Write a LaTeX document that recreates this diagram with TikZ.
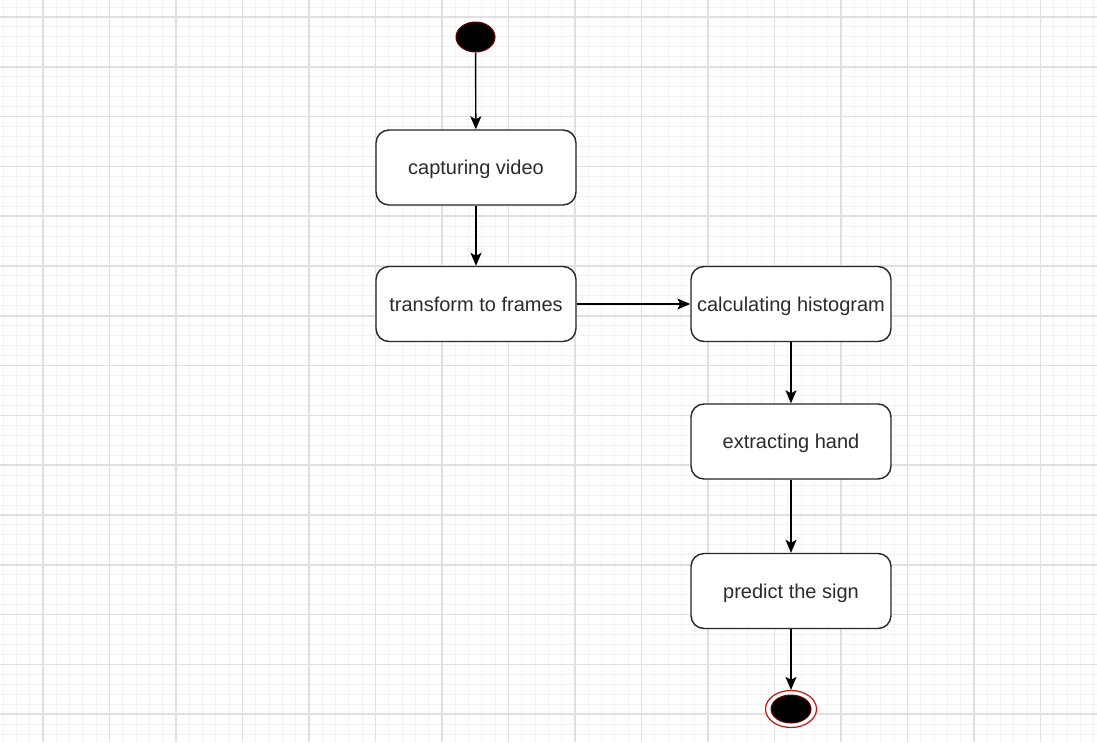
\documentclass[tikz,border=0pt]{standalone}
\usepackage{fontspec}
\setmainfont{Liberation Sans}
\usetikzlibrary{arrows.meta,shapes.geometric}
\definecolor{gridminor}{HTML}{F2F2F2}
\definecolor{gridmajor}{HTML}{E0E0E0}
\definecolor{txt}{HTML}{2B2B2B}
\definecolor{darkred}{HTML}{6B0000}
\definecolor{endred}{HTML}{CC1111}
\begin{document}
\begin{tikzpicture}[x=1pt,y=-1pt,
  stepbox/.style={draw=black!85, line width=1.4pt, rounded corners=13pt,
    minimum width=200pt, minimum height=75pt, fill=white, inner sep=0pt,
    text height=14.5pt, text depth=0pt,
    font=\fontsize{20}{24}\selectfont, text=txt},
  flow/.style={draw=black, line width=1.4pt, -{Stealth[length=13pt,width=11pt,inset=3pt]}},
  minorline/.style={draw=gridminor, line width=1pt},
  majorline/.style={draw=gridmajor, line width=1.5pt},
  startdot/.style={ellipse, fill=black, draw=darkred, line width=1pt,
    minimum width=39pt, minimum height=30pt, inner sep=0pt},
  endring/.style={ellipse, fill=white, draw=endred, line width=1.2pt,
    minimum width=51pt, minimum height=37pt, inner sep=0pt},
  enddot/.style={ellipse, fill=black, draw=darkred, line width=1pt,
    minimum width=40pt, minimum height=28pt, inner sep=0pt}]
\useasboundingbox (0,0) rectangle (1097,742);
\fill[white] (0,0) rectangle (1097,742);
% grid
\foreach \i in {0,...,82} { \draw[minorline] ({3.1+13.3*\i},0) -- ({3.1+13.3*\i},742); }
\foreach \i in {0,...,73} { \draw[minorline] (0,{7+9.96*\i}) -- (1097,{7+9.96*\i}); }
\foreach \i in {0,...,15} { \draw[majorline] ({43+66.5*\i},0) -- ({43+66.5*\i},742); }
\foreach \i in {0,...,14} { \draw[majorline] (0,{17+49.8*\i}) -- (1097,{17+49.8*\i}); }
% nodes
\node[startdot] (start) at (475.5,37) {};
\node[stepbox] (cap) at (476,167.5) {capturing video};
\node[stepbox] (trans) at (476,304) {transform to frames};
\node[stepbox] (hist) at (791,304) {calculating histogram};
\node[stepbox] (hand) at (791,441.5) {extracting hand};
\node[stepbox] (pred) at (791,591) {predict the sign};
\node[endring] (endr) at (791,709) {};
\node[enddot] (endd) at (791,709) {};
% connectors
\draw[flow] (start) -- (cap);
\draw[flow] (cap) -- (trans);
\draw[flow] (trans) -- (hist);
\draw[flow] (hist) -- (hand);
\draw[flow] (hand) -- (pred);
\draw[flow] (pred) -- (endr);
\end{tikzpicture}
\end{document}
